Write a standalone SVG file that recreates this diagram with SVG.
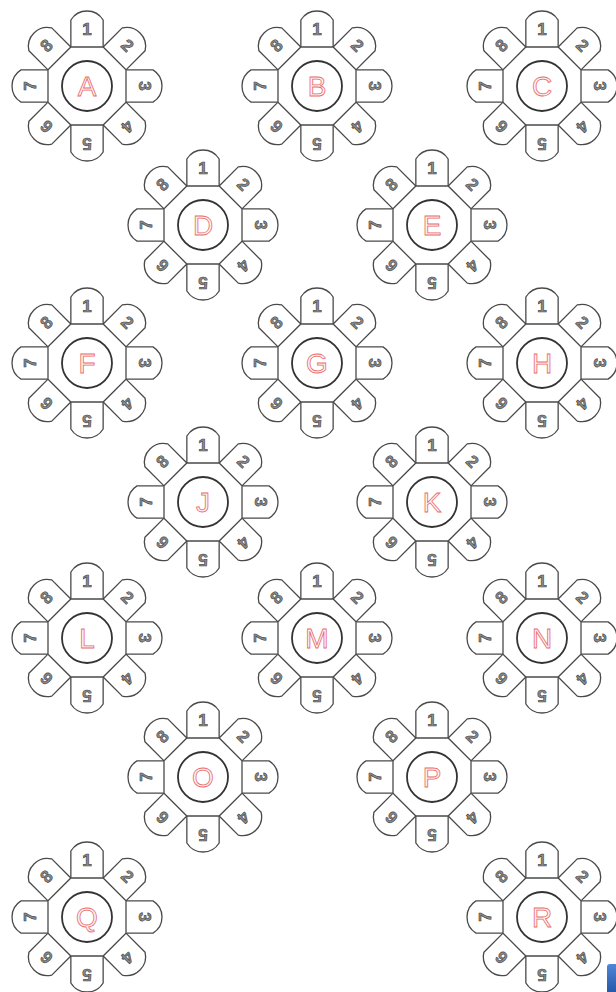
<svg xmlns="http://www.w3.org/2000/svg" xmlns:xlink="http://www.w3.org/1999/xlink" width="616" height="992" viewBox="0 0 616 992">
<style>
.petal{fill:#fff;stroke:#4a4a4a;stroke-width:1.3;stroke-linejoin:round}
.oct{fill:#fff;stroke:#4a4a4a;stroke-width:1.3}
.hub{fill:#fff;stroke:#333;stroke-width:1.8}
.num{font-family:"Liberation Sans",Arial,sans-serif;font-weight:bold;font-size:17px;fill:#8c8c8c;stroke:#404040;stroke-width:0.6;text-anchor:middle}
.letter{font-family:"Liberation Sans",Arial,sans-serif;font-size:28px;fill:#fff2f2;stroke:#e86a6a;stroke-width:0.8;text-anchor:middle}
</style>
<defs>
<path id="petal" class="petal" d="M -16.15,-39 L -16.15,-66 A 19 19 0 0 1 16.15,-66 L 16.15,-39"/>
<g id="flower">
<use xlink:href="#petal"/>
<use xlink:href="#petal" transform="rotate(45)"/>
<use xlink:href="#petal" transform="rotate(90)"/>
<use xlink:href="#petal" transform="rotate(135)"/>
<use xlink:href="#petal" transform="rotate(180)"/>
<use xlink:href="#petal" transform="rotate(225)"/>
<use xlink:href="#petal" transform="rotate(270)"/>
<use xlink:href="#petal" transform="rotate(315)"/>
<polygon class="oct" points="-16.15,-39 16.15,-39 39,-16.15 39,16.15 16.15,39 -16.15,39 -39,16.15 -39,-16.15"/>
<circle class="hub" r="25"/>
<text class="num" transform="rotate(0) translate(0,-57.5)" y="6">1</text>
<text class="num" transform="rotate(45) translate(0,-57.5)" y="6">2</text>
<text class="num" transform="rotate(90) translate(0,-57.5)" y="6">3</text>
<text class="num" transform="rotate(135) translate(0,-57.5)" y="6">4</text>
<text class="num" transform="rotate(180) translate(0,-57.5)" y="6">5</text>
<text class="num" transform="rotate(225) translate(0,-57.5)" y="6">6</text>
<text class="num" transform="rotate(270) translate(0,-57.5)" y="6">7</text>
<text class="num" transform="rotate(315) translate(0,-57.5)" y="6">8</text>
</g>
<linearGradient id="blue" x1="0" y1="0" x2="0" y2="1">
<stop offset="0" stop-color="#4f86d8"/>
<stop offset="1" stop-color="#1d4f9e"/>
</linearGradient>
</defs>
<rect width="616" height="992" fill="#fff"/>
<g id="connectors"/>
<g id="node-A" transform="translate(87,86)"><use xlink:href="#flower"/><text class="letter" y="10">A</text></g>
<g id="node-B" transform="translate(317,86)"><use xlink:href="#flower"/><text class="letter" y="10">B</text></g>
<g id="node-C" transform="translate(542,86)"><use xlink:href="#flower"/><text class="letter" y="10">C</text></g>
<g id="node-D" transform="translate(203,225)"><use xlink:href="#flower"/><text class="letter" y="10">D</text></g>
<g id="node-E" transform="translate(432,225)"><use xlink:href="#flower"/><text class="letter" y="10">E</text></g>
<g id="node-F" transform="translate(87,363)"><use xlink:href="#flower"/><text class="letter" y="10">F</text></g>
<g id="node-G" transform="translate(317,363)"><use xlink:href="#flower"/><text class="letter" y="10">G</text></g>
<g id="node-H" transform="translate(542,363)"><use xlink:href="#flower"/><text class="letter" y="10">H</text></g>
<g id="node-J" transform="translate(203,502)"><use xlink:href="#flower"/><text class="letter" y="10">J</text></g>
<g id="node-K" transform="translate(432,502)"><use xlink:href="#flower"/><text class="letter" y="10">K</text></g>
<g id="node-L" transform="translate(87,638)"><use xlink:href="#flower"/><text class="letter" y="10">L</text></g>
<g id="node-M" transform="translate(317,638)"><use xlink:href="#flower"/><text class="letter" y="10">M</text></g>
<g id="node-N" transform="translate(542,638)"><use xlink:href="#flower"/><text class="letter" y="10">N</text></g>
<g id="node-O" transform="translate(203,777)"><use xlink:href="#flower"/><text class="letter" y="10">O</text></g>
<g id="node-P" transform="translate(432,777)"><use xlink:href="#flower"/><text class="letter" y="10">P</text></g>
<g id="node-Q" transform="translate(87,917)"><use xlink:href="#flower"/><text class="letter" y="10">Q</text></g>
<g id="node-R" transform="translate(542,917)"><use xlink:href="#flower"/><text class="letter" y="10">R</text></g>
<rect x="607" y="964" width="14" height="34" rx="3" fill="url(#blue)"/>
</svg>
